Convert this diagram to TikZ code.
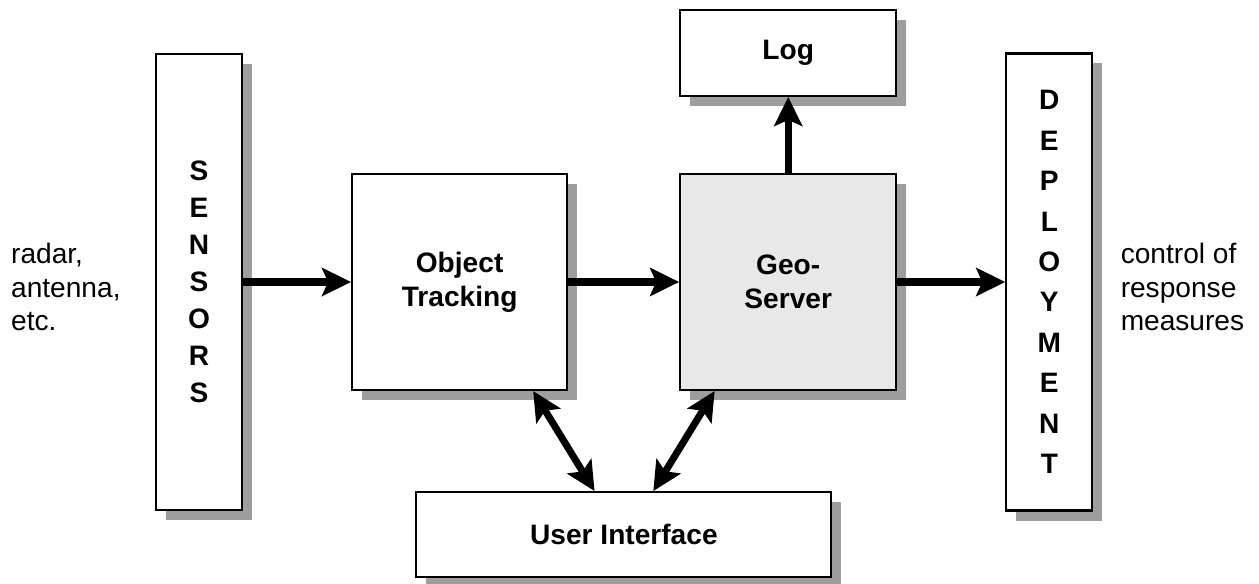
\documentclass[tikz,border=0pt]{standalone}
\usepackage{fontspec}
\setmainfont{Liberation Sans}
\usepackage{xcolor}
\usepackage{tikz}
\usetikzlibrary{arrows.meta,positioning,shadows,calc}

\definecolor{shadowgray}{gray}{0.62}
\definecolor{geofill}{gray}{0.91}

\begin{document}
\begin{tikzpicture}[
    node distance=2.16cm,
    block/.style={rectangle, draw, line width=1.2pt, fill=white, align=center,
        font=\bfseries\fontsize{16}{19.3}\selectfont,
        drop shadow={shadow xshift=0.2cm, shadow yshift=-0.2cm, fill=shadowgray, opacity=1}},
    tall/.style={block, minimum width=1.72cm, minimum height=9.12cm},
    note/.style={align=left, inner sep=0pt, font=\fontsize{16}{19.3}\selectfont},
    arrow/.style={-{Stealth[length=0.58cm, width=0.56cm, inset=0.12cm]}, line width=4pt},
    dblarrow/.style={{Stealth[length=0.58cm, width=0.56cm, inset=0.12cm]}-{Stealth[length=0.58cm, width=0.56cm, inset=0.12cm]}, line width=4pt}
]
    \useasboundingbox (0,0) rectangle (25.18,11.66);

    \node[tall, font=\bfseries\fontsize{16}{21}\selectfont] (sensors) at (3.98,6.02) {S\\E\\N\\S\\O\\R\\S};
    \node[block, right=of sensors, minimum width=4.3cm, minimum height=4.32cm] (track) {Object\\Tracking};
    \node[block, right=2.22cm of track, fill=geofill, minimum width=4.32cm, minimum height=4.32cm] (geo) {Geo-\\Server};
    \node[tall, right=of geo, minimum height=9.14cm, font=\bfseries\fontsize{16}{23}\selectfont] (deploy) {D\\E\\P\\L\\O\\Y\\M\\E\\N\\T};
    \node[block, above=1.52cm of geo, minimum width=4.32cm, minimum height=1.72cm] (log) {Log};
    \node[block, anchor=north, minimum width=8.3cm, minimum height=1.7cm] (ui)
        at ($(track.south)!0.5!(geo.south)+(0,-2)$) {User Interface};

    \node[note, left=0.68cm of sensors, yshift=-0.1cm] (input) {radar,\\antenna,\\etc.};
    \node[note, right=0.54cm of deploy, yshift=-0.1cm] (output) {control of\\response\\measures};

    \draw[arrow] (sensors) -- (track);
    \draw[arrow] (track) -- (geo);
    \draw[arrow] (geo) -- (deploy);
    \draw[arrow] (geo) -- (log);
    \draw[dblarrow] (track.-56) -- (ui.124);
    \draw[dblarrow] (geo.236) -- (ui.56);
\end{tikzpicture}
\end{document}
